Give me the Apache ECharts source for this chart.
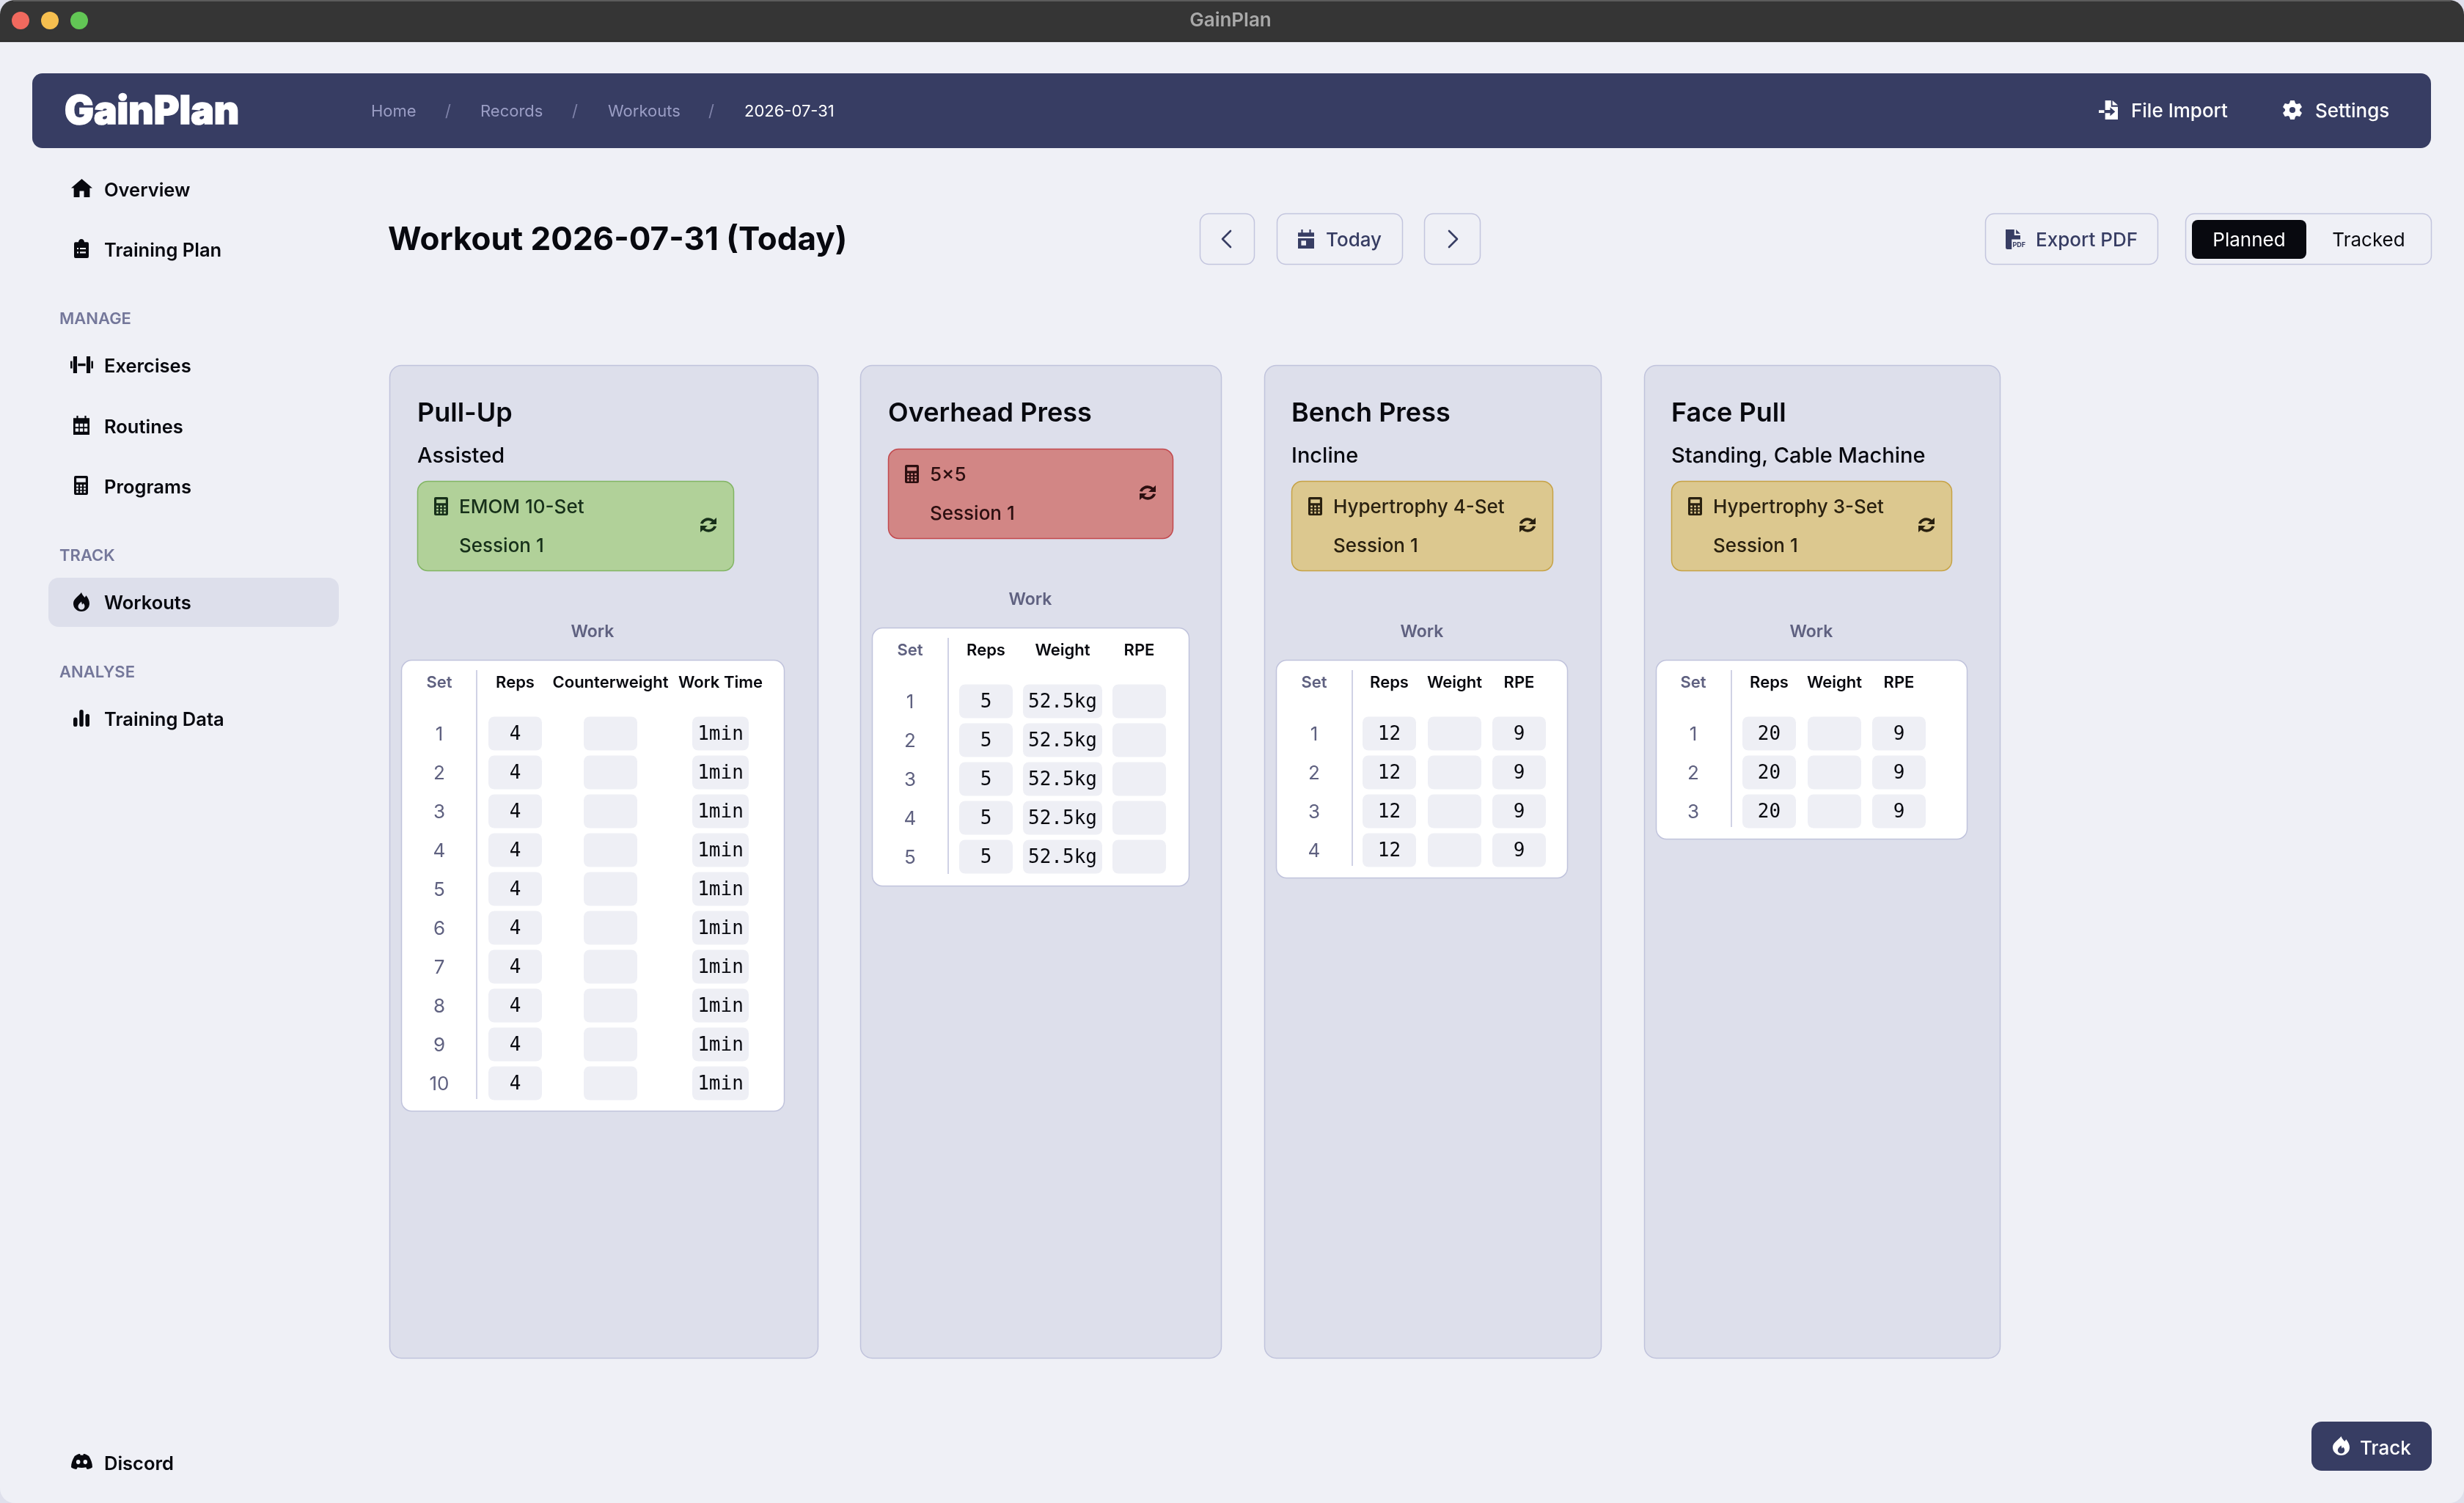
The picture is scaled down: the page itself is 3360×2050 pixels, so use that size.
<!DOCTYPE html>
<html lang="en">
<head>
    <meta charset="utf-8">
    <title>GainPlan</title>
    <script src="https://cdn.jsdelivr.net/npm/echarts@6/dist/echarts.min.js"></script>
    <style>
        html, body { margin: 0; padding: 0; background: #dfe0ec; }
        #main { width: 3360px; height: 2050px; }
    </style>
</head>
<body>
<div id="main"></div>
<script type="text/javascript">
    // table values
    var pullUpSets = [1, 2, 3, 4, 5, 6, 7, 8, 9, 10];
    var pullUpReps = ['4', '4', '4', '4', '4', '4', '4', '4', '4', '4'];
    var pullUpCounterweight = ['', '', '', '', '', '', '', '', '', ''];
    var pullUpWorkTime = ['1min', '1min', '1min', '1min', '1min', '1min', '1min', '1min', '1min', '1min'];

    var overheadSets = [1, 2, 3, 4, 5];
    var overheadReps = ['5', '5', '5', '5', '5'];
    var overheadWeight = ['52.5kg', '52.5kg', '52.5kg', '52.5kg', '52.5kg'];
    var overheadRpe = ['', '', '', '', ''];

    var benchSets = [1, 2, 3, 4];
    var benchReps = ['12', '12', '12', '12'];
    var benchWeight = ['', '', '', ''];
    var benchRpe = ['9', '9', '9', '9'];

    var faceSets = [1, 2, 3];
    var faceReps = ['20', '20', '20'];
    var faceWeight = ['', '', ''];
    var faceRpe = ['9', '9', '9'];

    var FONT = 'Inter';
    var MONO = 'DejaVu Sans Mono';
    var NAVY = '#373d63';
    var MUTED = '#5f6180';
    var BLACK = '#08090f';
    var LINE = '#c0c3dc';
    var ROW = 53;

    // icon outlines, holes are wound the other way round
    function gearPath() {
        var d = '';
        for (var i = 0; i < 6; i++) {
            var a = i * 60 - 90;
            [[-24, 8.8], [-12, 12], [12, 12], [24, 8.8]].forEach(function (p) {
                var t = (a + p[0]) * Math.PI / 180;
                d += (d ? 'L' : 'M') + (12 + p[1] * Math.cos(t)).toFixed(2) + ' ' + (12 + p[1] * Math.sin(t)).toFixed(2);
            });
        }
        return d + 'ZM12 8.4A3.6 3.6 0 0 0 12 15.6A3.6 3.6 0 0 0 12 8.4Z';
    }
    var ICONS = {
        home: 'M12 1L24 12H21V23H14.5V15.5H9.5V23H3V12H0Z',
        clipboard: 'M4 4H8A4 4 0 0 1 16 4H20A2 2 0 0 1 22 6V22A2 2 0 0 1 20 24H4A2 2 0 0 1 2 22V6A2 2 0 0 1 4 4Z' +
            'M6 11V13H8V11ZM10 11V13H18V11ZM6 16V18H8V16ZM10 16V18H18V16Z',
        dumbbell: 'M0 9H2V15H0ZM3 5H7V19H3ZM8 11H16V13H8ZM17 5H21V19H17ZM22 9H24V15H22Z',
        calendar: 'M6 0H8V3H16V0H18V3H22V24H2V3H6Z' +
            'M4.5 10V14H8.5V10ZM10 10V14H14V10ZM15.5 10V14H19.5V10ZM4.5 16V20H8.5V16ZM10 16V20H14V16ZM15.5 16V20H19.5V16Z',
        today: 'M6 0H8V4H16V0H18V4H22V9H2V4H6ZM2 11H22V24H2ZM6 14V20H12V14Z',
        calculator: 'M5 0H19A2 2 0 0 1 21 2V22A2 2 0 0 1 19 24H5A2 2 0 0 1 3 22V2A2 2 0 0 1 5 0Z' +
            'M6 3V8H18V3ZM6 11V13.5H8.5V11ZM10.75 11V13.5H13.25V11ZM15.5 11V13.5H18V11Z' +
            'M6 15V17.5H8.5V15ZM10.75 15V17.5H13.25V15ZM15.5 15V17.5H18V15Z' +
            'M6 19V21.5H8.5V19ZM10.75 19V21.5H13.25V19ZM15.5 19V21.5H18V19Z',
        fire: 'M12 0C13 3 15 4.5 16.5 6.5C17.3 5.5 18 4.5 18.5 4C21 7 23 10.5 23 14A11 10 0 0 1 1 14C1 8 8 5 12 0Z' +
            'M12 11.5C10 13.5 7.5 15 7.5 17.5A4.5 4.2 0 0 0 16.5 17.5C16.5 16 15.5 14.7 14.5 13.7L13 15.5Z',
        bars: 'M0 14A3 3 0 0 1 6 14V21A3 3 0 0 1 0 21ZM9 3A3 3 0 0 1 15 3V21A3 3 0 0 1 9 21ZM18 9A3 3 0 0 1 24 9V21A3 3 0 0 1 18 21Z',
        discord: 'M4 6C7 4 9 3.6 10 3.6L10.5 5H13.5L14 3.6C15 3.6 17 4 20 6C22.5 10 24 14 24 18.5C22 20 19.8 20.6 18 20.8L16.7 18.6' +
            'C14 19.4 10 19.4 7.3 18.6L6 20.8C4.2 20.6 2 20 0 18.5C0 14 1.5 10 4 6Z' +
            'M8 10.2A2.3 2.5 0 0 0 8 15.2A2.3 2.5 0 0 0 8 10.2ZM16 10.2A2.3 2.5 0 0 0 16 15.2A2.3 2.5 0 0 0 16 10.2Z',
        fileImport: 'M16 0L22 6H16ZM8 0H14.5V8H22V24H8V16H13.5V19.5L19 14L13.5 8.5V12H8ZM1 12.2H7V15.8H1Z',
        gear: gearPath(),
        filePdf: 'M2 0H12V7H19V12H9V24H4A2 2 0 0 1 2 22ZM14 0L19 5H14Z',
        refresh: 'M2.5 10A9.7 9.7 0 0 1 18.5 5.5L21.5 2.5V11H13L16.2 7.8A6.5 6.5 0 0 0 5.8 10.5Z' +
            'M21.5 14A9.7 9.7 0 0 1 5.5 18.5L2.5 21.5V13H11L7.8 16.2A6.5 6.5 0 0 0 18.2 13.5Z'
    };

    var items = [];
    var iconList = [];

    function addRect(x, y, w, h, r, fill, stroke, lineWidth) {
        items.push({
            type: 'rect', silent: true,
            shape: { x: x, y: y, width: w, height: h, r: r },
            style: { fill: fill, stroke: stroke || null, lineWidth: lineWidth || 0 }
        });
    }
    function addText(text, x, y, size, weight, fill, align, family) {
        items.push({
            type: 'text', silent: true, x: x, y: y + 2,
            style: {
                text: text, fontSize: size, fontWeight: weight, fontFamily: family || FONT, fill: fill,
                align: align || 'left', verticalAlign: 'middle',
                textAlign: align || 'left', textVerticalAlign: 'middle'
            }
        });
    }
    // the graphic component has no pathData shape, icons go through a custom series
    function addIcon(name, x, y, w, h, fill) {
        iconList.push({ name: name, x: x, y: y, w: w, h: h, fill: fill });
    }
    function addLine(x1, y1, x2, y2, stroke, lineWidth) {
        items.push({
            type: 'line', silent: true,
            shape: { x1: x1, y1: y1, x2: x2, y2: y2 },
            style: { stroke: stroke, lineWidth: lineWidth }
        });
    }
    function addChevron(points) {
        items.push({
            type: 'polyline', silent: true,
            shape: { points: points },
            style: { fill: null, stroke: NAVY, lineWidth: 2.6, lineCap: 'round', lineJoin: 'round' }
        });
    }
    function addButton(x, w) {
        addRect(x + 0.5, 291.5, w, 69, 12, '#eff0f6', '#c3c5de', 1.5);
    }

    // window and title bar
    addRect(0, 0, 3360, 2050, 20, '#eff0f6');
    addRect(0, 0, 3360, 57, [20, 20, 0, 0], '#353535');
    addLine(18, 1, 3342, 1, '#5c5c5c', 2);
    addLine(0, 56.5, 3360, 56.5, '#111111', 1);
    addLine(0, 57.5, 3360, 57.5, '#b9b9bd', 1);
    [['#f0695e', 28], ['#f6bf4f', 68], ['#62c655', 108]].forEach(function (d) {
        items.push({ type: 'circle', silent: true, shape: { cx: d[1], cy: 28, r: 12 }, style: { fill: d[0] } });
    });
    addText('GainPlan', 1678, 26, 26, 600, '#a9a9a9', 'center');

    // top navigation
    addRect(44, 100, 3271, 102, 14, NAVY);
    items.push({
        type: 'text', silent: true, x: 88, y: 153,
        style: {
            text: 'GainPlan', fontSize: 53, fontWeight: 900, fontFamily: FONT, fill: '#ffffff',
            stroke: '#ffffff', lineWidth: 1.5,
            align: 'left', verticalAlign: 'middle', textAlign: 'left', textVerticalAlign: 'middle'
        }
    });
    addText('Home', 506, 150, 22, 400, '#9a9dc4');
    addText('/', 611, 150, 22, 400, '#7f83aa', 'center');
    addText('Records', 655, 150, 22, 400, '#9a9dc4');
    addText('/', 784, 150, 22, 400, '#7f83aa', 'center');
    addText('Workouts', 829, 150, 22, 400, '#9a9dc4');
    addText('/', 970, 150, 22, 400, '#7f83aa', 'center');
    addText('2026-07-31', 1015, 150, 22, 400, '#ffffff');
    addIcon('fileImport', 2862, 137, 26, 26, '#ffffff');
    addText('File Import', 2906, 150, 26, 500, '#ffffff');
    addIcon('gear', 3113, 137, 26, 26, '#ffffff');
    addText('Settings', 3157, 150, 26, 500, '#ffffff');

    // sidebar
    addRect(66, 788, 396, 67, 14, '#dddfeb');
    addIcon('home', 97, 244, 29, 25, BLACK);
    addText('Overview', 142, 258, 25.5, 600, BLACK);
    addIcon('clipboard', 101, 326, 20, 26, BLACK);
    addText('Training Plan', 142, 340, 25.5, 600, BLACK);
    addText('MANAGE', 81, 433, 22, 600, '#74779a');
    addIcon('dumbbell', 96, 486, 31, 23, BLACK);
    addText('Exercises', 142, 498, 25.5, 600, BLACK);
    addIcon('calendar', 100, 567, 22, 26, BLACK);
    addText('Routines', 142, 581, 25.5, 600, BLACK);
    addIcon('calculator', 101, 649, 19, 26, BLACK);
    addText('Programs', 142, 663, 25.5, 600, BLACK);
    addText('TRACK', 81, 756, 22, 600, '#74779a');
    addIcon('fire', 100, 808, 22, 26, BLACK);
    addText('Workouts', 142, 821, 25.5, 600, BLACK);
    addText('ANALYSE', 81, 915, 22, 600, '#74779a');
    addIcon('bars', 100, 968, 22, 23, BLACK);
    addText('Training Data', 142, 980, 25.5, 600, BLACK);
    addIcon('discord', 97, 1983, 29, 21, BLACK);
    addText('Discord', 142, 1995, 25.5, 600, BLACK);

    // page header
    addText('Workout 2026-07-31 (Today)', 529, 326, 44, 700, BLACK);
    addButton(1636, 74);
    addChevron([[1678, 315], [1667, 326], [1678, 337]]);
    addButton(1741, 171);
    addIcon('today', 1770, 313, 22, 26, NAVY);
    addText('Today', 1808, 326, 26, 500, NAVY);
    addButton(1942, 76);
    addChevron([[1976, 315], [1987, 326], [1976, 337]]);
    addButton(2707, 235);
    addIcon('filePdf', 2735, 313, 20, 27, NAVY);
    addText('PDF', 2762, 332, 9, 700, NAVY, 'right');
    addText('Export PDF', 2776, 326, 26, 500, NAVY);
    addButton(2980, 335);
    addRect(2989, 300, 156, 53, 8, '#08090f');
    addText('Planned', 3067, 326, 26, 400, '#ffffff', 'center');
    addText('Tracked', 3230, 326, 26, 400, BLACK, 'center');

    addRect(3152, 1939, 164, 67, 14, NAVY);
    addIcon('fire', 3181, 1959, 23, 26, '#ffffff');
    addText('Track', 3218, 1974, 26, 500, '#ffffff');

    // one card per exercise
    var GREEN = { fill: '#b1d199', stroke: '#82b564', ink: '#17301a' };
    var RED = { fill: '#d28685', stroke: '#c2494e', ink: '#2c0f10' };
    var YELLOW = { fill: '#dcc88f', stroke: '#c6a246', ink: '#2a2110' };

    var cards = [
        {
            x: 531, w: 584, title: 'Pull-Up', sub: 'Assisted',
            box: { x: 569, w: 431, y: 656, colors: GREEN, text: 'EMOM 10-Set' },
            workX: 808, table: { x: 547, w: 522, y: 900, h: 615, setX: 599, divider: 650 },
            sets: pullUpSets,
            columns: [
                { name: 'Reps', values: pullUpReps, x: 666, w: 73 },
                { name: 'Counterweight', values: pullUpCounterweight, x: 796, w: 73 },
                { name: 'Work Time', values: pullUpWorkTime, x: 944, w: 77 }
            ]
        },
        {
            x: 1173, w: 492, title: 'Overhead Press', sub: null,
            box: { x: 1211, w: 388, y: 612, colors: RED, text: '5×5' },
            workX: 1405, table: { x: 1189, w: 432, y: 856, h: 352, setX: 1241, divider: 1293 },
            sets: overheadSets,
            columns: [
                { name: 'Reps', values: overheadReps, x: 1308, w: 73 },
                { name: 'Weight', values: overheadWeight, x: 1395, w: 108 },
                { name: 'RPE', values: overheadRpe, x: 1517, w: 73 }
            ]
        },
        {
            x: 1724, w: 459, title: 'Bench Press', sub: 'Incline',
            box: { x: 1761, w: 356, y: 656, colors: YELLOW, text: 'Hypertrophy 4-Set' },
            workX: 1939, table: { x: 1740, w: 397, y: 900, h: 297, setX: 1792, divider: 1844 },
            sets: benchSets,
            columns: [
                { name: 'Reps', values: benchReps, x: 1858, w: 73 },
                { name: 'Weight', values: benchWeight, x: 1947, w: 73 },
                { name: 'RPE', values: benchRpe, x: 2035, w: 73 }
            ]
        },
        {
            x: 2242, w: 485, title: 'Face Pull', sub: 'Standing, Cable Machine',
            box: { x: 2279, w: 382, y: 656, colors: YELLOW, text: 'Hypertrophy 3-Set' },
            workX: 2470, table: { x: 2258, w: 424, y: 900, h: 244, setX: 2309, divider: 2361 },
            sets: faceSets,
            columns: [
                { name: 'Reps', values: faceReps, x: 2376, w: 73 },
                { name: 'Weight', values: faceWeight, x: 2465, w: 73 },
                { name: 'RPE', values: faceRpe, x: 2553, w: 73 }
            ]
        }
    ];

    var grids = [], xAxes = [], yAxes = [], series = [];

    // every column is its own small grid so the cells go through the axes
    function addColumn(name, sets, values, left, width, top, cellFill, textFill, family, size, headerFill) {
        var idx = grids.length;
        grids.push({ left: left, top: top, width: width, height: sets.length * ROW, show: false });
        xAxes.push({
            type: 'category', gridIndex: idx, position: 'top', data: [name], z: 5,
            axisLine: { show: false }, axisTick: { show: false }, splitLine: { show: false },
            axisLabel: {
                interval: 0, margin: 42.5, fontSize: 22, fontWeight: 600, fontFamily: FONT,
                color: headerFill, verticalAlign: 'middle'
            }
        });
        yAxes.push({
            type: 'category', gridIndex: idx, inverse: true, data: sets, show: false
        });
        series.push({
            type: 'custom', name: name, xAxisIndex: idx, yAxisIndex: idx, clip: false, silent: true,
            data: values.map(function (v, i) { return [0, i]; }),
            encode: { x: 0, y: 1 },
            renderItem: function (params, api) {
                var c = api.coord([api.value(0), api.value(1)]);
                var s = api.size([1, 1]);
                var children = [];
                if (cellFill) {
                    children.push({
                        type: 'rect',
                        shape: { x: c[0] - s[0] / 2, y: c[1] - 23, width: s[0], height: 46, r: 8 },
                        style: { fill: cellFill }
                    });
                }
                children.push({
                    type: 'text', x: c[0], y: c[1] + 2,
                    style: {
                        text: String(values[params.dataIndex]), fill: textFill, fontFamily: family, fontSize: size,
                        align: 'center', verticalAlign: 'middle', textAlign: 'center', textVerticalAlign: 'middle'
                    }
                });
                return { type: 'group', children: children };
            }
        });
    }

    cards.forEach(function (card) {
        var b = card.box, t = card.table;
        addRect(card.x + 0.5, 498.5, card.w, 1354, 16, '#dddfeb', LINE, 1.5);
        addText(card.title, b.x, 562, 36, 600, BLACK);
        if (card.sub) {
            addText(card.sub, b.x, 620, 29, 500, BLACK);
        }
        addRect(b.x + 0.5, b.y + 0.5, b.w, 122, 14, b.colors.fill, b.colors.stroke, 1.5);
        addIcon('calculator', b.x + 23, b.y + 22, 19, 25, b.colors.ink);
        addText(b.text, b.x + 57, b.y + 34, 26, 500, b.colors.ink);
        addText('Session 1', b.x + 57, b.y + 87, 26, 500, b.colors.ink);
        addIcon('refresh', b.x + b.w - 45, b.y + 50, 22, 20, b.colors.ink);
        addText('Work', card.workX, t.y - 40, 23, 600, MUTED, 'center');
        addRect(t.x + 0.5, t.y + 0.5, t.w, t.h, 14, '#ffffff', LINE, 1.5);
        addLine(t.divider, t.y + 14, t.divider, t.y + t.h - 16, LINE, 1.5);

        var top = t.y + 74;
        addColumn('Set', card.sets, card.sets, t.setX - 30, 60, top, null, MUTED, FONT, 26, MUTED);
        card.columns.forEach(function (col) {
            addColumn(col.name, card.sets, col.values, col.x, col.w, top, '#eeeff5', BLACK, MONO, 26, BLACK);
        });
    });

    series.push({
        type: 'custom', name: 'icons', coordinateSystem: 'none', silent: true, z: 3,
        data: iconList.map(function (ic, i) { return [i]; }),
        renderItem: function (params) {
            var ic = iconList[params.dataIndex];
            return {
                type: 'path',
                shape: { pathData: ICONS[ic.name], x: ic.x, y: ic.y, width: ic.w, height: ic.h, layout: 'cover' },
                style: { fill: ic.fill }
            };
        }
    });

    var myChart = echarts.init(document.getElementById('main'), null, { renderer: 'canvas' });
    myChart.setOption({
        animation: false,
        backgroundColor: '#dfe0ec',
        tooltip: { show: false },
        graphic: { elements: items },
        grid: grids,
        xAxis: xAxes,
        yAxis: yAxes,
        series: series
    });
</script>
</body>
</html>
